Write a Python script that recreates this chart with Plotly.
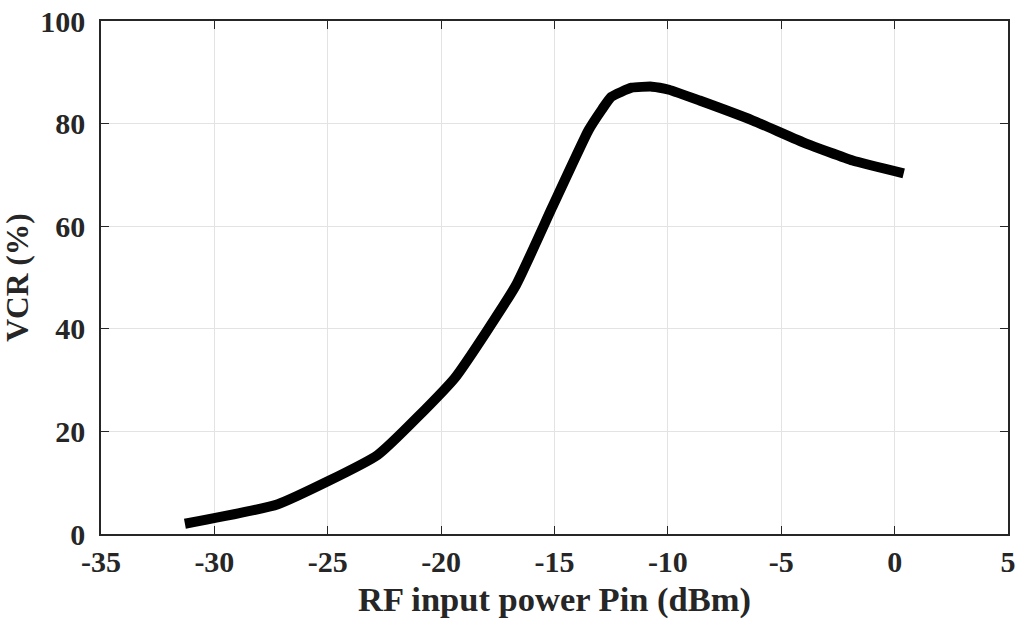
import plotly.graph_objects as go

pin_dbm = [-31.3, -27.2, -22.8, -19.4, -16.7, -15.1, -13.5, -12.9, -12.5, -11.6, -10.7,
           -9.95, -8.6, -6.25, -3.9, -1.85, 0.4]
vcr_pct = [2.0, 5.8, 15.4, 30.4, 48.5, 63.7, 78.7, 82.8, 85.2, 87.0, 87.2,
           86.6, 84.5, 80.6, 76.1, 72.8, 70.3]

x_ticks = [-35, -30, -25, -20, -15, -10, -5, 0, 5]
x_tick_labels = ["-35", "-30", "-25", "-20", "-15", "-10", "-5", "0", "5"]
y_ticks = [0, 20, 40, 60, 80, 100]
y_tick_labels = ["0", "20", "40", "60", "80", "100"]

font_family = "Liberation Serif, Times New Roman, serif"
text_color = "#262626"

fig = go.Figure()
fig.add_trace(go.Scatter(x=pin_dbm, y=vcr_pct, mode="lines",
                         line=dict(color="black", width=10, shape="spline", smoothing=0.4),
                         showlegend=False))

axis_common = dict(
    showline=True, linecolor=text_color, linewidth=1.5, mirror="ticks",
    ticks="inside", ticklen=8, tickcolor=text_color,
    showgrid=True, gridcolor="#e3e3e3", gridwidth=1,
    zeroline=False, automargin=False,
    tickfont=dict(family=font_family, size=30, color=text_color, weight="bold"),
)

fig.update_xaxes(range=[-35, 5], tickvals=x_ticks, ticktext=x_tick_labels,
                 ticklabelstandoff=0,
                 title=dict(text="RF input power Pin (dBm)", standoff=10,
                            font=dict(family=font_family, size=34.5, color=text_color, weight="bold")),
                 **axis_common)
fig.update_yaxes(range=[0, 100], tickvals=y_ticks, ticktext=y_tick_labels,
                 ticklabelstandoff=8,
                 title=dict(text="VCR (%)", standoff=2,
                            font=dict(family=font_family, size=31.5, color=text_color, weight="bold")),
                 **axis_common)

fig.update_layout(width=1019, height=619,
                  margin=dict(l=101, r=11, t=21, b=85),
                  plot_bgcolor="white", paper_bgcolor="white")

fig.write_html("out.html")
